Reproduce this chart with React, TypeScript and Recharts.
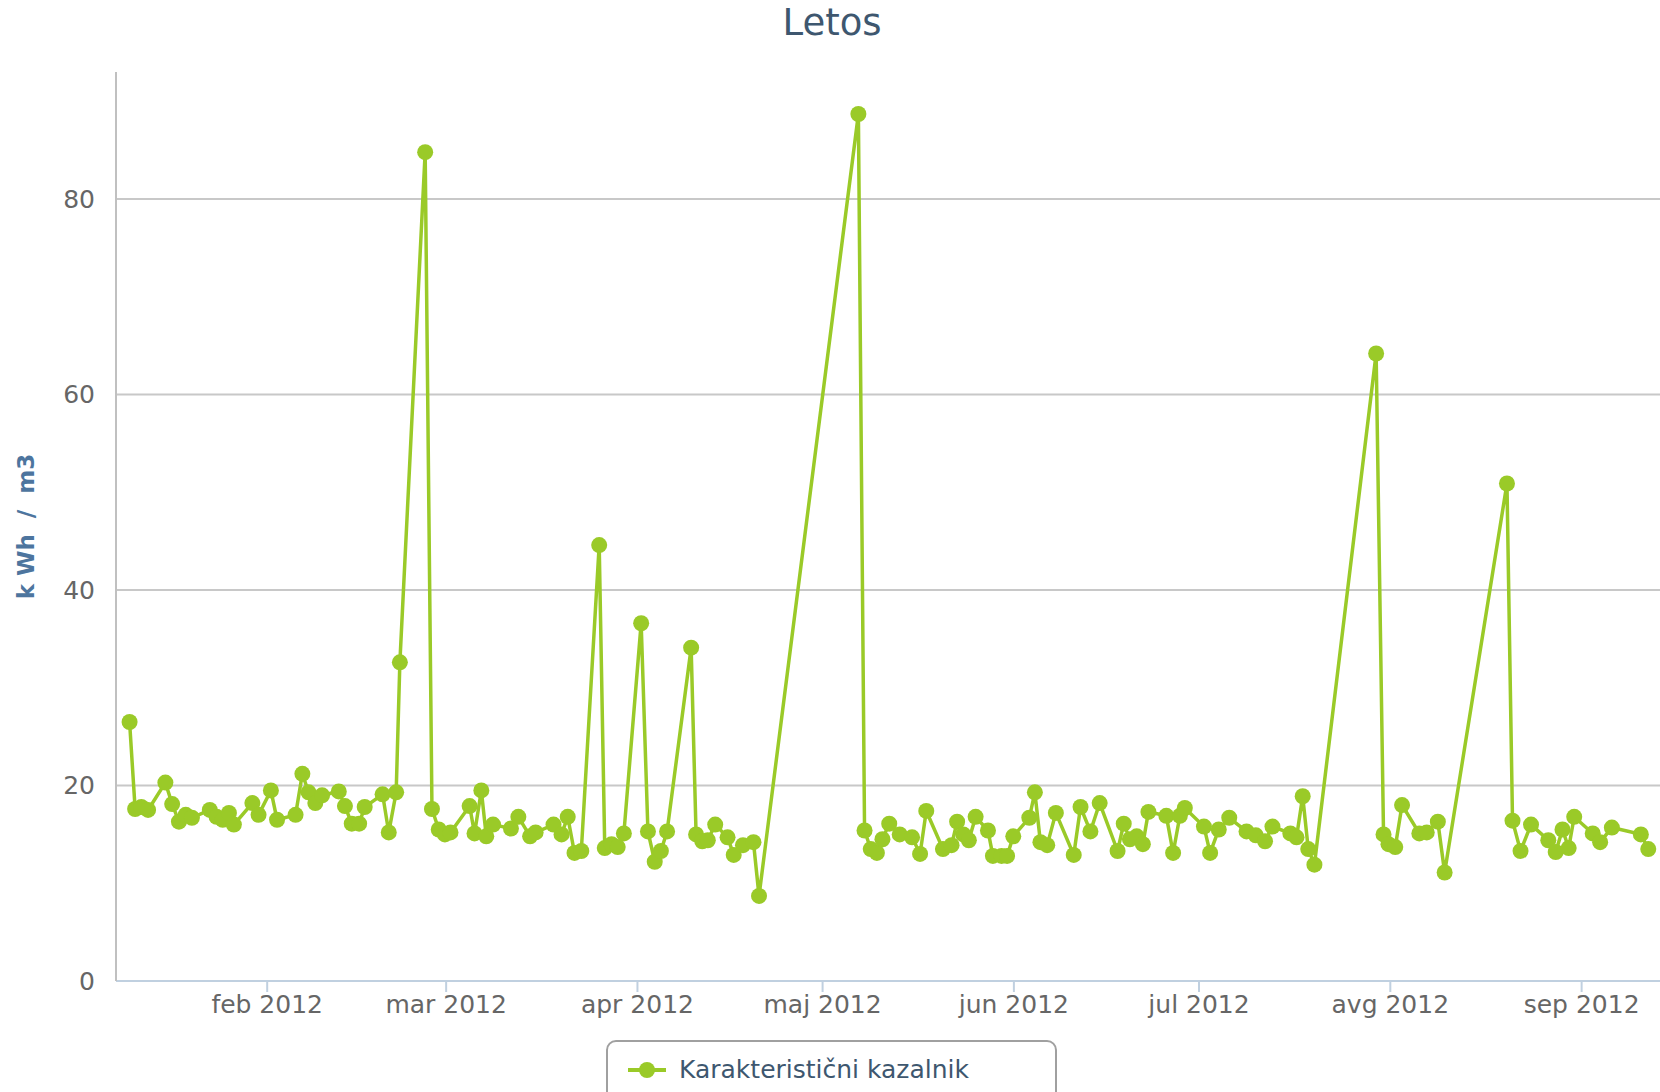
import React from "react"
import { LineChart, Line, XAxis, YAxis, CartesianGrid } from "recharts"

// x = days since 1 Jan 2012 (day 0), y = kWh / m3
const days = [
  8.7, 9.6, 10.6, 11.7, 14.5, 15.6, 16.7, 17.8, 18.8, 21.7, 22.8, 23.8, 24.8, 25.6,
  28.6, 29.6, 31.6, 32.6, 35.6, 36.7, 37.7, 38.8, 39.9, 42.6, 43.6, 44.7, 45.9, 46.8,
  49.7, 50.7, 51.9, 52.5, 56.6, 57.7, 58.8, 59.8, 60.7, 63.8, 64.6, 65.7, 66.5, 67.6,
  70.5, 71.7, 73.6, 74.5, 77.4, 78.7, 79.7, 80.8, 81.9, 84.8, 85.7, 86.8, 87.8, 88.8,
  91.6, 92.7, 93.8, 94.8, 95.8, 99.7, 100.5, 101.5, 102.4, 103.6, 105.6, 106.6, 108.1,
  109.8, 110.7, 126.8, 127.8, 128.8, 129.8, 130.7, 131.8, 133.5, 135.5, 136.8, 137.8,
  140.5, 141.9, 142.8, 143.8, 144.7, 145.8, 147.8, 148.6, 150.0, 150.9, 151.9, 154.5,
  155.4, 156.3, 157.4, 158.8, 161.7, 162.8, 164.4, 165.9, 168.8, 169.8, 170.8, 171.9,
  172.9, 173.8, 176.7, 177.8, 178.9, 179.7, 182.8, 183.8, 185.2, 186.9, 189.7, 191.2,
  192.7, 193.9, 196.8, 197.8, 198.8, 199.7, 200.7, 210.7, 211.9, 212.7, 213.8, 214.9,
  217.7, 218.9, 220.7, 221.8, 231.9, 232.8, 234.1, 235.8, 238.6, 239.8, 240.9, 241.9,
  242.8, 245.8, 247.0, 248.9, 253.6, 254.8,
]

const values = [
  26.5, 17.6, 17.8, 17.5, 20.3, 18.1, 16.3, 17.0, 16.7, 17.5, 16.8, 16.5, 17.2, 16.0,
  18.2, 17.0, 19.5, 16.5, 17.0, 21.2, 19.3, 18.2, 19.0, 19.4, 17.9, 16.1, 16.1, 17.8,
  19.1, 15.2, 19.3, 32.6, 84.8, 17.6, 15.5, 15.0, 15.2, 17.9, 15.1, 19.5, 14.8, 16.0,
  15.6, 16.8, 14.8, 15.2, 16.0, 15.0, 16.8, 13.1, 13.3, 44.6, 13.6, 14.0, 13.7, 15.1,
  36.6, 15.3, 12.2, 13.3, 15.3, 34.1, 15.0, 14.3, 14.4, 16.0, 14.7, 12.9, 13.9,
  14.2, 8.7, 88.7, 15.4, 13.5, 13.1, 14.5, 16.1, 15.0, 14.7, 13.0, 17.4,
  13.5, 13.9, 16.3, 15.0, 14.4, 16.8, 15.4, 12.8, 12.8, 12.8, 14.8, 16.7,
  19.3, 14.2, 13.9, 17.2, 12.9, 17.8, 15.3, 18.2, 13.3, 16.1, 14.5, 14.8,
  14.0, 17.3, 16.9, 13.1, 16.9, 17.7, 15.8, 13.1, 15.5, 16.7, 15.3, 14.9,
  14.3, 15.8, 15.1, 14.7, 18.9, 13.5, 11.9, 64.2, 15.0, 14.0, 13.7, 18.0,
  15.1, 15.2, 16.3, 11.1, 50.9, 16.4, 13.3, 16.0, 14.4, 13.2, 15.5, 13.6,
  16.8, 15.1, 14.2, 15.7, 15.0, 13.5,
]

const monthTicks = [31, 60, 91, 121, 152, 182, 213, 244]
const monthLabels = ["feb 2012", "mar 2012", "apr 2012", "maj 2012", "jun 2012", "jul 2012", "avg 2012", "sep 2012"]
const yTicks = [0, 20, 40, 60, 80]

const GREEN = "#9aca28"
const FONT = '"DejaVu Sans", Verdana, sans-serif'

const data = days.map((d, i) => ({ day: d, value: values[i] }))

const YTitle = ({ viewBox }: any) => {
  const x = 26
  const y = viewBox.y + viewBox.height / 2
  return (
    <text
      x={x}
      y={y}
      transform={`rotate(-90 ${x} ${y})`}
      textAnchor="middle"
      dominantBaseline="central"
      fill="#4d759e"
      fontWeight="bold"
      fontSize={23}
      fontFamily={FONT}
      style={{ whiteSpace: "pre" }}
    >
      {"k Wh  /  m3"}
    </text>
  )
}

export default function App() {
  return (
    <div style={{ position: "absolute", left: 0, top: 0, width: 1660, height: 1092, overflow: "hidden", background: "#fff", fontFamily: FONT }}>
      <div style={{ position: "absolute", left: 832, top: 4, transform: "translateX(-50%)", fontSize: 37, lineHeight: "38px", color: "#3e576f" }}>
        Letos
      </div>

      <LineChart width={1660} height={1092} data={data} margin={{ top: 72, right: 0, bottom: 51, left: 0 }}>
        <CartesianGrid vertical={false} stroke="#c8c8c8" strokeWidth={2} syncWithTicks />
        <XAxis
          dataKey="day"
          type="number"
          domain={[6.5, 256.7]}
          ticks={monthTicks}
          interval={0}
          height={60}
          tickFormatter={(v) => monthLabels[monthTicks.indexOf(v)]}
          tick={{ fill: "#666", fontSize: 25, fontFamily: FONT }}
          tickSize={11}
          tickMargin={3}
          tickLine={{ stroke: "#c0d0e0", strokeWidth: 2 }}
          axisLine={{ stroke: "#c0d0e0", strokeWidth: 2 }}
        />
        <YAxis
          domain={[0, 93]}
          ticks={yTicks}
          interval={0}
          width={116}
          tick={{ fill: "#666", fontSize: 25, fontFamily: FONT }}
          tickLine={false}
          tickSize={0}
          tickMargin={21}
          axisLine={{ stroke: "#c0c0c0", strokeWidth: 2 }}
          label={<YTitle />}
        />
        <Line
          type="linear"
          dataKey="value"
          stroke={GREEN}
          strokeWidth={3.5}
          dot={{ r: 8, fill: GREEN, stroke: GREEN, strokeWidth: 0 }}
          activeDot={false}
          isAnimationActive={false}
        />
      </LineChart>

      <div
        style={{
          position: "absolute",
          left: 606,
          top: 1040,
          width: 451,
          height: 90,
          border: "2px solid #a0a0a0",
          borderRadius: 10,
          boxSizing: "border-box",
        }}
      >
        <svg width={40} height={20} style={{ position: "absolute", left: 20, top: 18 }}>
          <line x1={0} y1={10} x2={38} y2={10} stroke={GREEN} strokeWidth={4} />
          <circle cx={19} cy={10} r={8} fill={GREEN} />
        </svg>
        <div style={{ position: "absolute", left: 71, top: 12, fontSize: 25, lineHeight: "32px", color: "#3e576f", whiteSpace: "nowrap" }}>
          Karakteristični kazalnik
        </div>
      </div>
    </div>
  )
}
